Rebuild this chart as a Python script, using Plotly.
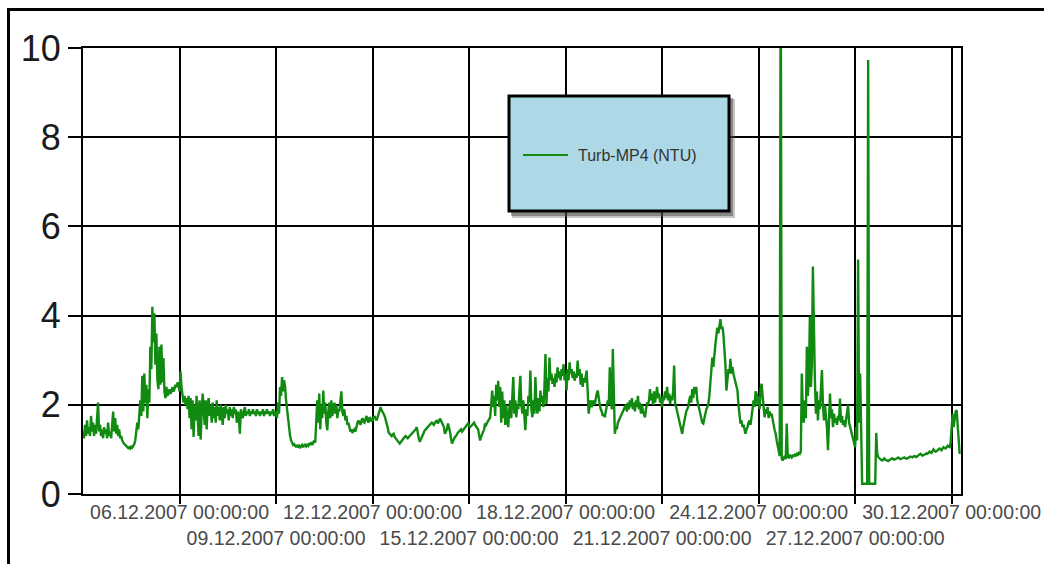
import pandas as pd
import plotly.graph_objects as go

# Turbidity logger MP4, 45-minute readings starting 03.12.2007 00:00
start = "2007-12-03 00:00"
interval = "45min"
series_name = "Turb-MP4 (NTU)"

turbidity = [
    1.40, 1.25, 1.55, 1.30, 1.65, 1.35, 1.50, 1.30, 1.75, 1.40,
    1.60, 1.30, 1.55, 1.35, 1.70, 2.05, 1.40, 1.55, 1.30, 1.45,
    1.25, 1.50, 1.35, 1.45, 1.25, 1.60, 1.30, 1.40, 1.25, 1.55,
    1.85, 1.40, 1.70, 1.35, 1.55, 1.30, 1.45, 1.25, 1.30, 1.20,
    1.15, 1.12, 1.10, 1.08, 1.05, 1.03, 1.05, 1.02, 1.06, 1.04,
    1.08, 1.12, 1.20, 1.35, 1.60, 1.45, 1.75, 2.10, 1.75, 2.65,
    1.85, 2.70, 2.05, 2.45, 1.70, 2.35, 2.05, 3.30, 2.80, 4.20,
    3.40, 4.05, 2.90, 3.60, 2.55, 2.35, 3.30, 2.45, 3.35, 2.50,
    3.05, 2.30, 2.15, 2.40, 2.20, 2.25, 2.35, 2.25, 2.30, 2.40,
    2.30, 2.35, 2.45, 2.40, 2.50, 2.45, 2.30, 2.75, 2.40, 2.25,
    2.05, 2.20, 2.00, 2.15, 1.90, 2.20, 1.70, 2.15, 1.45, 2.10,
    1.28, 2.00, 1.65, 2.20, 1.85, 1.30, 2.10, 1.22, 1.80, 2.25,
    1.95, 1.55, 2.10, 1.45, 2.00, 2.15, 1.75, 2.00, 1.60,
    2.05, 1.70, 1.95, 1.60, 2.10, 1.75, 1.95, 1.65, 2.00, 1.80,
    1.55, 1.95, 1.70, 2.00, 1.80, 1.90, 1.65, 1.95, 1.75, 1.90,
    1.70, 1.95, 1.80, 1.90, 1.60, 1.85, 1.75, 1.35, 1.90, 1.80,
    1.70, 1.85, 1.95, 1.75, 1.85, 1.80, 1.90, 1.75, 1.85, 1.80,
    1.90, 1.80, 1.85, 1.75, 1.90, 1.80, 1.85, 1.75, 1.85, 1.80,
    1.90, 1.75, 1.85, 1.80, 1.90, 1.80, 1.85, 1.75, 1.85, 1.80,
    1.90, 1.75, 1.85, 1.80, 1.70, 2.05, 1.80, 2.40, 2.20, 2.62,
    2.30, 2.55, 2.40, 2.10, 1.90, 1.70, 1.45, 1.30, 1.20, 1.13,
    1.10, 1.12, 1.08, 1.05, 1.10, 1.06, 1.08, 1.03, 1.07, 1.10,
    1.05, 1.08, 1.12, 1.07, 1.10, 1.08, 1.14, 1.10, 1.16, 1.10,
    1.18, 1.20, 1.15, 1.55, 2.10, 1.60, 2.25, 1.45, 2.00, 1.70,
    2.32, 1.80, 2.05, 1.60, 1.43, 1.85, 2.05, 1.70, 2.10, 1.75,
    1.95, 2.05, 1.80, 2.00, 1.70, 1.90, 1.85, 2.05, 2.30, 1.85,
    1.75, 1.90, 1.65, 1.75, 1.55, 1.60, 1.50, 1.40, 1.45, 1.37,
    1.42, 1.45, 1.40, 1.55, 1.60, 1.65, 1.58, 1.55, 1.65, 1.70,
    1.62, 1.60, 1.68, 1.75, 1.65, 1.60, 1.72, 1.70, 1.62, 1.65,
    1.70, 1.75, 1.68, 1.65, 1.72, 1.80, 1.85, 1.95, 1.88, 1.85,
    1.80, 1.75, 1.68, 1.60, 1.50, 1.38, 1.35, 1.32, 1.30,
    1.33, 1.35, 1.28, 1.25, 1.20, 1.18, 1.15, 1.13, 1.16, 1.20,
    1.22, 1.25, 1.28, 1.30, 1.27, 1.25, 1.28, 1.30, 1.33, 1.35,
    1.38, 1.40, 1.43, 1.45, 1.50, 1.35, 1.25, 1.17, 1.22, 1.30,
    1.35, 1.40, 1.43, 1.45, 1.48, 1.50, 1.52, 1.55, 1.58, 1.60,
    1.57, 1.55, 1.60, 1.62, 1.65, 1.58, 1.62, 1.69, 1.65, 1.60,
    1.55, 1.50, 1.35, 1.40, 1.45, 1.58, 1.50, 1.40, 1.25, 1.13,
    1.18, 1.25, 1.28, 1.30, 1.35, 1.38, 1.40, 1.42, 1.45, 1.40,
    1.43, 1.47, 1.50, 1.52, 1.55, 1.58, 1.53, 1.50, 1.52, 1.55,
    1.57, 1.60, 1.55, 1.50, 1.48, 1.45, 1.30, 1.20, 1.28, 1.35,
    1.40, 1.45, 1.58, 1.55, 1.60, 1.65, 1.70, 1.72, 2.00, 2.32,
    1.95, 2.20, 1.75, 2.45, 2.10, 2.54, 1.95, 2.40, 1.60, 2.30,
    1.70, 2.10, 1.55, 2.00, 1.65, 1.50, 1.90, 2.10, 1.70, 2.20,
    2.62, 1.80, 2.10, 1.72, 2.00, 1.90, 2.40, 2.65, 2.00, 1.80,
    2.10, 1.60, 1.43, 1.90, 1.75, 2.20, 2.05, 2.77, 1.90, 1.72,
    2.10, 1.80, 2.62, 2.00, 1.80, 2.15, 1.85, 2.32, 2.05, 2.20,
    1.95, 2.40, 3.14, 2.02, 2.60, 2.30, 3.06, 2.55, 2.70, 2.47,
    2.60, 2.40, 2.70, 2.50, 2.84, 2.60, 2.75, 2.55, 2.80, 2.65,
    2.91, 2.55, 2.70, 2.32, 2.80, 2.55, 2.95, 2.70, 2.80,
    2.60, 2.75, 2.54, 2.70, 2.60, 2.99, 2.65, 2.80, 2.45, 2.70,
    2.40, 2.60, 2.50, 2.65, 2.77, 2.30, 1.80, 2.00, 2.10, 1.95,
    2.02, 2.10, 2.00, 2.15, 2.25, 2.32, 2.10, 2.00, 1.90, 1.85,
    1.75, 1.80, 1.72, 1.85, 1.95, 2.10, 2.00, 2.84, 2.10, 1.90,
    3.25, 2.00, 1.35, 1.50, 1.45, 1.60, 1.65, 1.72, 1.75, 1.80,
    1.85, 1.90, 1.95, 2.00, 1.85, 2.05, 1.90, 2.10, 1.95, 2.15,
    1.90, 2.05, 1.85, 2.10, 1.95, 2.20, 1.90, 2.05, 1.80, 2.00,
    1.85, 1.78, 1.72, 1.90, 2.05, 2.00, 2.10, 2.35, 2.10, 2.25,
    2.00, 2.30, 2.05, 2.20, 2.40, 2.15, 2.25, 2.05, 2.15, 1.95,
    2.20, 2.10, 2.30, 2.15, 2.40, 2.10, 2.25, 2.02, 2.20, 2.10,
    2.30, 2.88, 2.00, 1.95, 1.85, 1.70, 1.60, 1.55, 1.45, 1.35,
    1.50, 1.65, 1.75, 1.85, 1.90, 1.95, 2.10, 2.20, 2.05, 2.35,
    2.15, 2.40, 2.25, 2.40, 2.10, 2.00, 1.85, 1.75, 1.65, 1.60,
    1.58, 1.70, 1.80, 1.90, 1.95, 2.02, 2.20, 2.45, 2.75, 3.06,
    2.85, 3.20, 3.35, 3.55, 3.73, 3.60, 3.80, 3.92, 3.70, 3.75,
    3.58, 3.30, 2.90, 2.32, 2.60, 2.80, 2.70, 3.03, 2.70, 2.85,
    2.69, 2.60, 2.50, 2.40, 2.32, 2.00, 1.80, 1.58, 1.65, 1.50,
    1.55, 1.40, 1.35, 1.45, 1.50, 1.60, 1.65, 1.55, 1.72,
    1.90, 2.10, 1.95, 2.30, 2.25, 2.00, 2.20, 1.90, 2.35, 2.47,
    2.20, 2.00, 1.72, 1.90, 1.80, 1.95, 1.70, 1.85, 1.75, 1.80,
    1.60, 1.55, 1.43, 1.35, 1.20, 1.06, 0.95, 0.85, 12.50, 0.80,
    0.75, 0.80, 0.85, 0.78, 1.58, 0.85, 0.80, 0.88, 0.84, 0.82,
    0.86, 0.85, 0.88, 0.86, 0.90, 0.88, 0.92, 0.90, 0.95, 2.70,
    1.80, 1.60, 2.10, 1.70, 3.30, 2.20, 2.60, 3.98, 2.40, 2.90,
    5.10, 3.20, 2.55, 1.80, 2.30, 1.65, 2.10, 1.90, 2.40, 2.78,
    2.00, 1.65, 2.00, 1.80, 1.50, 0.98, 1.60, 2.25, 1.70, 1.90,
    1.50, 1.80, 1.60, 1.70, 1.55, 1.75, 1.65, 2.14, 1.60, 1.75,
    1.55, 1.65, 1.50, 1.70, 1.85, 2.00, 1.60, 1.50, 1.40, 1.35,
    1.25, 1.15, 1.05, 1.50, 1.20, 5.26, 1.60, 2.70, 1.10, 0.23,
    0.23, 0.23, 0.23, 0.23, 0.23, 9.73, 0.23, 0.23, 0.23, 0.23,
    0.23, 0.23, 0.23, 1.37, 0.90, 0.83, 0.80, 0.78, 0.76, 0.75,
    0.78, 0.80, 0.77, 0.76, 0.75, 0.74, 0.76, 0.78, 0.80, 0.80,
    0.78, 0.77, 0.78, 0.79, 0.81, 0.82, 0.80, 0.78, 0.79, 0.80,
    0.82, 0.82, 0.80, 0.79, 0.80, 0.81, 0.83, 0.84, 0.83, 0.82,
    0.84, 0.85, 0.84, 0.83, 0.85, 0.87, 0.89, 0.90, 0.88, 0.86,
    0.87, 0.88, 0.90, 0.91, 0.90, 0.93, 0.95, 0.93, 0.92,
    0.96, 1.00, 0.97, 0.95, 0.96, 0.98, 1.00, 1.02, 1.00, 0.98,
    1.02, 1.05, 1.03, 1.02, 1.05, 1.08, 1.06, 1.05, 1.15, 1.40,
    1.80, 1.50, 1.70, 1.85, 1.88, 1.60, 1.20, 0.90,
]

x_range = ["2007-12-03 00:00", "2007-12-30 07:00"]
tick_dates = ["2007-12-06", "2007-12-09", "2007-12-12", "2007-12-15", "2007-12-18",
              "2007-12-21", "2007-12-24", "2007-12-27", "2007-12-30"]
tick_labels = ["06.12.2007 00:00:00", "09.12.2007 00:00:00", "12.12.2007 00:00:00",
               "15.12.2007 00:00:00", "18.12.2007 00:00:00", "21.12.2007 00:00:00",
               "24.12.2007 00:00:00", "27.12.2007 00:00:00", "30.12.2007 00:00:00"]
y_ticks = [0, 2, 4, 6, 8, 10]

times = pd.date_range(start, periods=len(turbidity), freq=interval)

# every second date label goes on a second row
staggered = [t if i % 2 == 0 else "<br>" + t for i, t in enumerate(tick_labels)]

FONT = "Liberation Sans, Arial, sans-serif"
LINE_GREEN = "#118a11"

fig = go.Figure()
fig.add_trace(go.Scatter(
    x=times, y=turbidity, mode="lines", name=series_name,
    line=dict(color=LINE_GREEN, width=2.4), showlegend=False,
))

W, H = 1044, 564
ml, mr, mt, mb = 83, 83, 48, 70
pw, ph = W - ml - mr, H - mt - mb


def px(x):
    return (x - ml) / pw


def py(y):
    return (H - mb - y) / ph


shapes = [
    # page frame
    dict(type="rect", xref="paper", yref="paper", x0=px(8.5), x1=px(1400),
         y0=py(800), y1=py(9.5), line=dict(color="black", width=3),
         fillcolor="rgba(0,0,0,0)", layer="above"),
    # legend drop shadow
    dict(type="rect", xref="paper", yref="paper", x0=px(512), x1=px(735),
         y0=py(218), y1=py(99), line=dict(width=0),
         fillcolor="rgba(90,90,90,0.35)", layer="above"),
    dict(type="rect", xref="paper", yref="paper", x0=px(511), x1=px(733),
         y0=py(216), y1=py(98), line=dict(width=0),
         fillcolor="rgba(60,60,60,0.45)", layer="above"),
    # legend box
    dict(type="rect", xref="paper", yref="paper", x0=px(509), x1=px(729),
         y0=py(211), y1=py(96), line=dict(color="black", width=3),
         fillcolor="#add8e6", layer="above"),
    # legend line sample
    dict(type="line", xref="paper", yref="paper", x0=px(523), x1=px(568),
         y0=py(155), y1=py(155), line=dict(color=LINE_GREEN, width=2),
         layer="above"),
]

annotations = [
    dict(text=series_name, xref="paper", yref="paper", x=px(576), y=py(155),
         xanchor="left", yanchor="middle", showarrow=False,
         font=dict(family=FONT, size=16, color="#333333")),
]

fig.update_layout(
    width=W, height=H,
    margin=dict(l=ml, r=mr, t=mt, b=mb, pad=0, autoexpand=False),
    paper_bgcolor="white", plot_bgcolor="white",
    shapes=shapes, annotations=annotations,
    showlegend=False,
    xaxis=dict(
        type="date", range=x_range, automargin=False,
        tickmode="array", tickvals=tick_dates, ticktext=staggered,
        tickangle=0, ticklabeloverflow="allow", ticklabelstandoff=-8,
        showgrid=True, gridcolor="black", gridwidth=2,
        showline=True, linecolor="black", linewidth=2, mirror=True,
        ticks="outside", ticklen=8, tickwidth=2, tickcolor="black",
        tickfont=dict(family=FONT, size=19.5, color="#4a4a4a"),
        zeroline=False,
    ),
    yaxis=dict(
        range=[0, 10], automargin=False,
        tickmode="array", tickvals=y_ticks,
        ticktext=[str(v) for v in y_ticks],
        showgrid=True, gridcolor="black", gridwidth=2,
        showline=True, linecolor="black", linewidth=2, mirror=True,
        ticks="outside", ticklen=13, tickwidth=2, tickcolor="black",
        tickfont=dict(family=FONT, size=36, color="#1a1a1a"),
        zeroline=False,
    ),
)

fig.write_html("out.html")
